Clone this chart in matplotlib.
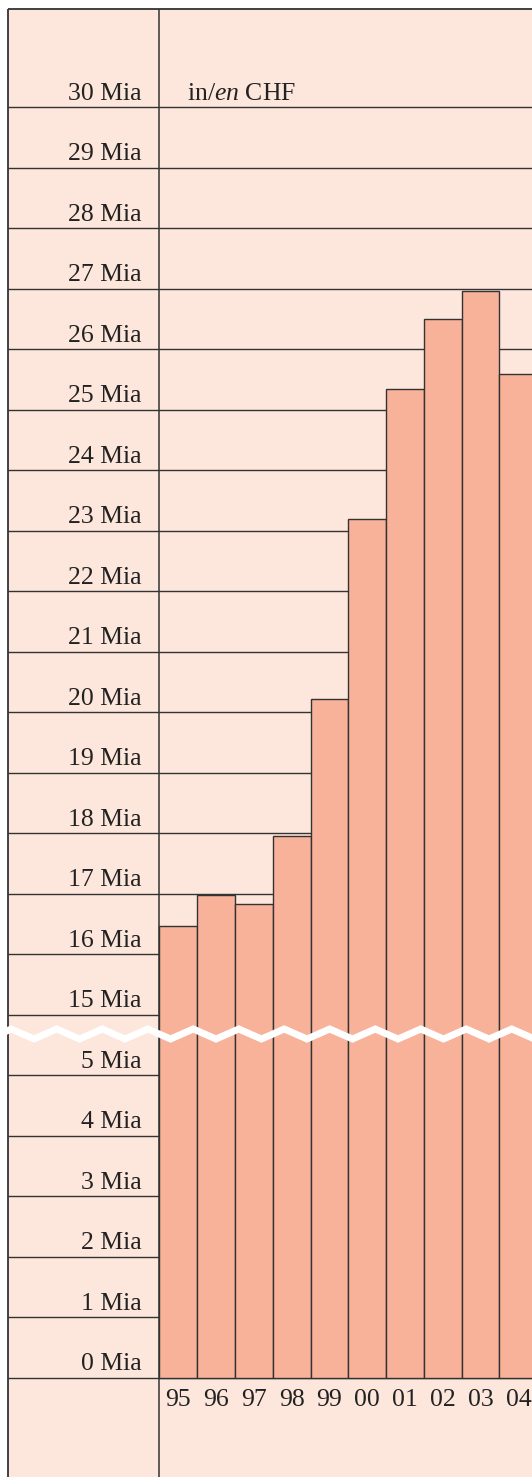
import matplotlib
matplotlib.use("Agg")
import matplotlib.pyplot as plt
from matplotlib.patches import Rectangle
import numpy as np

plt.rcParams['font.family'] = ['Liberation Serif', 'DejaVu Serif']
plt.rcParams['mathtext.fontset'] = 'custom'
plt.rcParams['mathtext.rm'] = 'Liberation Serif'
plt.rcParams['mathtext.it'] = 'Liberation Serif:italic'

# data (billions CHF, "Mia")
years = ["95", "96", "97", "98", "99", "00", "01", "02", "03", "04"]
values = [16.46, 16.98, 16.83, 17.96, 20.21, 23.20, 25.34, 26.50, 26.96, 25.59]
low_ticks = [0, 1, 2, 3, 4, 5]
high_ticks = list(range(15, 31))
gap = 9  # 6..14 Mia cut out of the axis

def to_axis(v):
    v = np.asarray(v, dtype=float)
    return np.where(v <= 5, v, v - gap)

# layout in pixels
W, H = 532, 1477
bar_left_px = 159.3
bar_w_px = 37.8
zero_px = 1377.7
step_px = 60.5
frame_left_px = 8
frame_top_px = 9

bg = '#FDE6DB'
bar_col = '#F8B29A'
line_col = '#333333'
fs = 18.5

fig = plt.figure(figsize=(W / 100, H / 100), dpi=100)
ax = fig.add_axes([0, 0, 1, 1])
xmin = -bar_left_px / bar_w_px
xmax = (W - bar_left_px) / bar_w_px
ymin = -(H - zero_px) / step_px
ymax = zero_px / step_px
ax.set_xlim(xmin, xmax)
ax.set_ylim(ymin, ymax)
ax.axis('off')

def px_x(p):
    return (p - bar_left_px) / bar_w_px

def px_y(p):
    return (zero_px - p) / step_px

xl = px_x(frame_left_px)
yt = px_y(frame_top_px)

# background panel
ax.add_patch(Rectangle((xl, ymin), xmax - xl, yt - ymin, facecolor=bg,
                       edgecolor='none', zorder=0))

# grid lines
all_ticks = low_ticks + high_ticks
ax.hlines(to_axis(all_ticks), xl, xmax, color=line_col, lw=1.0, zorder=1)

# frame
ax.plot([xl, xl], [ymin, yt], color=line_col, lw=1.3, zorder=1,
        solid_capstyle='butt')
ax.plot([xl, xmax], [yt, yt], color=line_col, lw=1.3, zorder=1,
        solid_capstyle='butt')
ax.plot([0, 0], [ymin, yt], color=line_col, lw=1.1, zorder=3,
        solid_capstyle='butt')

# bars
x = np.arange(len(years)) + 0.5
ax.bar(x, to_axis(values), width=1.0, color=bar_col, edgecolor=line_col,
       linewidth=1.0, zorder=2)

# y labels
for t in all_ticks:
    ax.text(px_x(142), float(to_axis(t)) + 7.3 / step_px, f"{t} Mia",
            ha='right', va='baseline', fontsize=fs, color='#222222')

ax.text(px_x(187), float(to_axis(30)) + 7.3 / step_px, r"in/$\mathit{en}$ CHF",
        ha='left', va='baseline', fontsize=fs, color='#222222')

# x labels
for xi, lab in zip(x, years):
    ax.text(xi, px_y(1400), lab, ha='center', va='center', fontsize=fs,
            color='#222222')

# axis break zigzag
zx = np.arange(-11.5, W + 46, 22.75)
zy = np.where(np.arange(len(zx)) % 2 == 0, 1039.0, 1029.0)
ax.plot(px_x(zx), px_y(zy), color='white', lw=5.0, zorder=5,
        solid_joinstyle='miter')

fig.savefig("out.png", dpi=100, facecolor='white')
